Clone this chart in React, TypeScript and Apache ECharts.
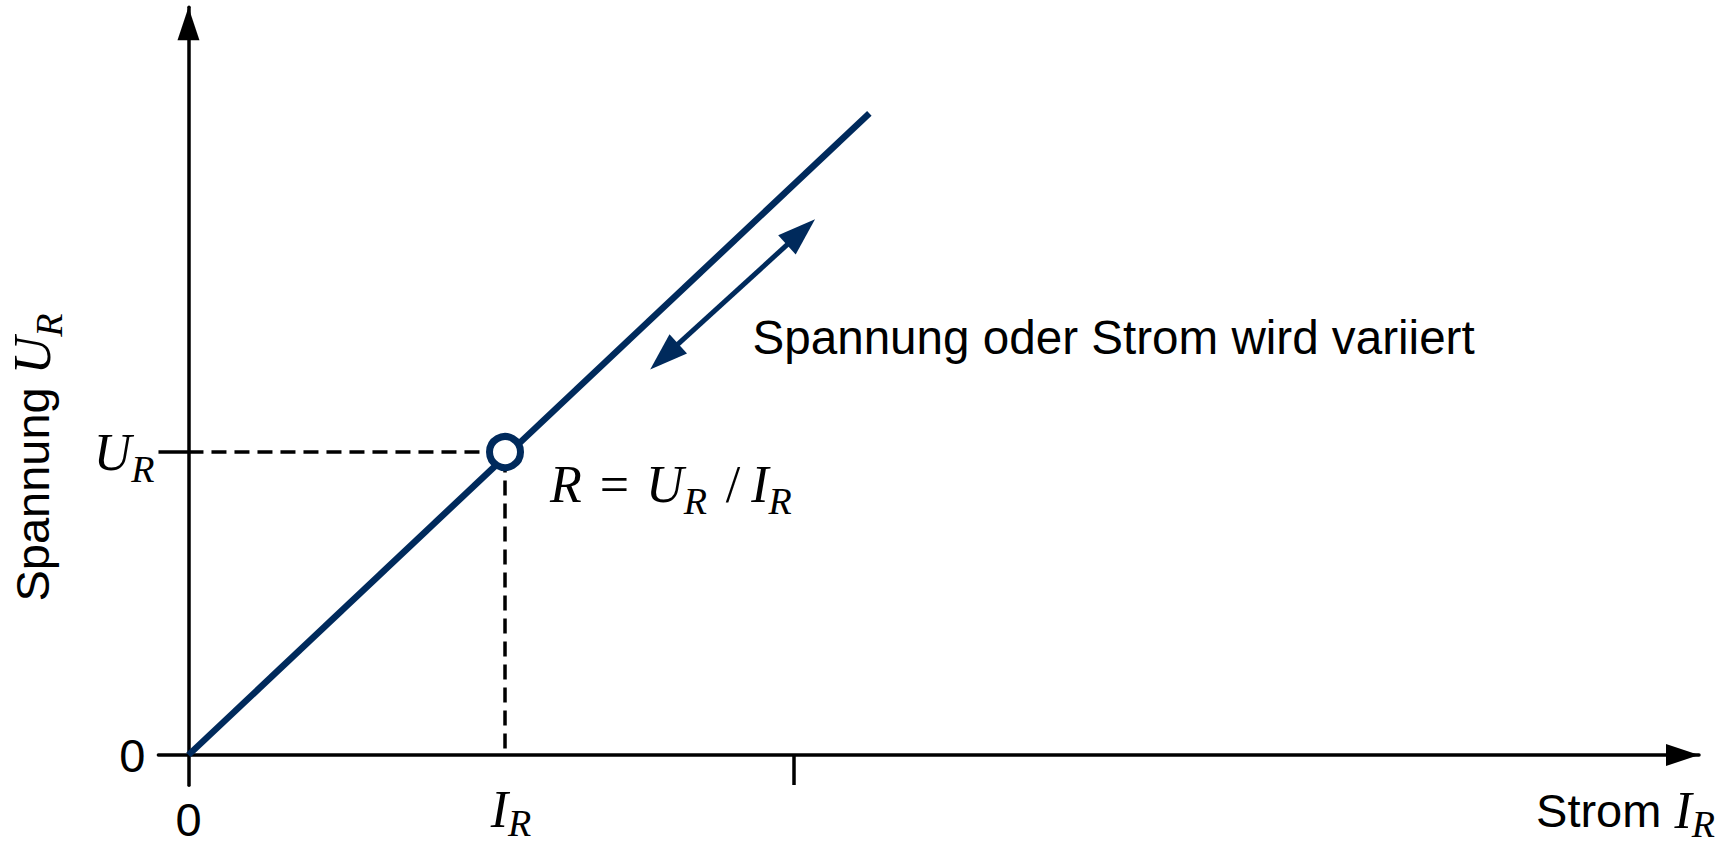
import React, { useEffect, useRef } from "react";
import * as echarts from "echarts";

// ---- data (units: I_R = 1, U_R = 1) ----
const axisRangeI = [-0.095, 4.772];
const axisRangeU = [-0.1, 2.468];
const lineI = [0, 2.151];
const lineU = [0, 2.118];
const pointI = [1];
const pointU = [1];
const guideI = [0, 1, 1];
const guideU = [1, 1, 0];
const arrowI = [1.503, 1.935];
const arrowU = [1.315, 1.726];
const xTickValues = [1.911];
const xLabelValues = [0, 1];
const xLabelTexts = ["{n|0}", "{i|I}{s|R}"];
const yTickValues = [1];
const yLabelValues = [0, 1];
const yLabelTexts = ["{n|0}", "{i|U}{s|R}"];
const annotationText = "Spannung oder Strom wird variiert";
const xName = "Strom {i|I}{s|R}";
const yName = "Spannung {i|U}{s|R}";
const formulaText = "{m|R}{eq|=}{m|U}{s|R}{sl|/}{m|I}{s|R}";

const NAVY = "#002a5c";
const SANS = "'Liberation Sans', Arial, sans-serif";
const SERIF = "'Liberation Serif', 'Times New Roman', serif";

export default function App() {
  const ref = useRef<HTMLDivElement>(null);
  useEffect(() => {
    document.body.style.margin = "0";
    if (!ref.current) return;
    const chart = echarts.init(ref.current, undefined, { renderer: "svg" });

    const subC = { fontFamily: SERIF, fontStyle: "italic", fontSize: 38, color: "#000", padding: [33, 0, 0, 0] };
    const mainC = { fontFamily: SERIF, fontStyle: "italic", fontSize: 52, color: "#000" };

    const option: any = {
      animation: false,
      grid: { left: 158.4, right: 30, top: 7.3, bottom: 59.7, containLabel: false, outerBoundsMode: "none" },
      xAxis: {
        type: "value",
        min: axisRangeI[0],
        max: axisRangeI[1],
        axisLine: {
          show: true,
          onZero: true,
          symbol: ["none", "triangle"],
          symbolSize: [22, 33],
          symbolOffset: [0, -16.5],
          lineStyle: { color: "#000", width: 3.5 },
        },
        axisTick: { show: true, customValues: xTickValues, length: 30, inside: false, lineStyle: { color: "#000", width: 3.5 } },
        axisLabel: {
          show: true,
          customValues: xLabelValues,
          margin: -9,
          formatter: (v: number) => {
            const i = xLabelValues.indexOf(v);
            return i >= 0 ? xLabelTexts[i] : "";
          },
          rich: {
            n: { fontFamily: SANS, fontSize: 47, color: "#000", padding: [20, 0, 0, 0] },
            i: { ...mainC, padding: [0, 0, 0, 12] },
            s: { ...subC, padding: [28, 0, 0, 0] },
          },
        },
        splitLine: { show: false },
      },
      yAxis: {
        type: "value",
        min: axisRangeU[0],
        max: axisRangeU[1],
        axisLine: {
          show: true,
          onZero: true,
          symbol: ["none", "triangle"],
          symbolSize: [22, 33],
          symbolOffset: [0, -16.5],
          lineStyle: { color: "#000", width: 3.5 },
        },
        axisTick: { show: true, customValues: yTickValues, length: 30, inside: false, lineStyle: { color: "#000", width: 3.5 } },
        axisLabel: {
          show: true,
          customValues: yLabelValues,
          margin: 4,
          formatter: (v: number) => {
            const i = yLabelValues.indexOf(v);
            return i >= 0 ? yLabelTexts[i] : "";
          },
          rich: {
            n: { fontFamily: SANS, fontSize: 47, color: "#000", padding: [0, 9, 0, 0] },
            i: mainC,
            s: subC,
          },
        },
        splitLine: { show: false },
      },
      series: [
        {
          type: "line",
          data: guideI.map((x, k) => [x, guideU[k]]),
          symbol: "none",
          silent: true,
          z: 1,
          lineStyle: { color: "#000", width: 3.5, type: [15, 8] },
        },
        {
          type: "line",
          data: lineI.map((x, k) => [x, lineU[k]]),
          symbol: "none",
          silent: true,
          z: 2,
          lineStyle: { color: NAVY, width: 6.5, cap: "butt" },
          markLine: {
            silent: true,
            symbol: ["triangle", "triangle"],
            symbolSize: [26, 38],
            label: { show: false },
            lineStyle: { color: NAVY, width: 5, type: "solid" },
            data: [[{ coord: [arrowI[0], arrowU[0]] }, { coord: [arrowI[1], arrowU[1]] }]],
          },
        },
        {
          type: "scatter",
          data: pointI.map((x, k) => [x, pointU[k]]),
          symbol: "circle",
          symbolSize: 31,
          silent: true,
          z: 3,
          itemStyle: { color: "#fff", borderColor: NAVY, borderWidth: 7, opacity: 1 },
        },
      ],
    };
    chart.setOption(option);

    const p = chart.convertToPixel({ gridIndex: 0 }, [pointI[0], pointU[0]]) as number[];
    const subG = { fontFamily: SERIF, fontStyle: "italic", fontSize: 38, fill: "#000", padding: [33, 0, 0, 0] };
    const subN = { fontFamily: SERIF, fontStyle: "italic", fontSize: 38, fill: "#000", padding: [28, 0, 0, 0] };
    const mainG = { fontFamily: SERIF, fontStyle: "italic", fontSize: 52, fill: "#000" };
    chart.setOption({
      graphic: [
        {
          type: "text",
          silent: true,
          x: p[0] + 45,
          y: p[1] + 32,
          style: {
            text: formulaText,
            align: "left",
            verticalAlign: "middle",
            rich: {
              m: mainG,
              s: subG,
              eq: { fontFamily: SERIF, fontSize: 52, fill: "#000", padding: [0, 17, 0, 18] },
              sl: { fontFamily: SERIF, fontSize: 52, fill: "#000", padding: [0, 11, 0, 19] },
            },
          },
        },
        {
          type: "text",
          silent: true,
          x: 752.5,
          y: 337,
          style: { text: annotationText, fontFamily: SANS, fontSize: 47.6, fill: "#000", align: "left", verticalAlign: "middle" },
        },
        {
          type: "text",
          silent: true,
          x: 1715,
          y: 810,
          style: {
            text: xName,
            fontFamily: SANS,
            fontSize: 47,
            fill: "#000",
            align: "right",
            verticalAlign: "middle",
            rich: { i: mainG, s: subN },
          },
        },
        {
          type: "text",
          silent: true,
          x: 32,
          y: 457.5,
          rotation: Math.PI / 2,
          style: {
            text: yName,
            fontFamily: SANS,
            fontSize: 47,
            fill: "#000",
            align: "center",
            verticalAlign: "middle",
            rich: { i: mainG, s: subG },
          },
        },
      ],
    });

    return () => chart.dispose();
  }, []);
  return <div ref={ref} style={{ width: 1729, height: 845 }} />;
}
